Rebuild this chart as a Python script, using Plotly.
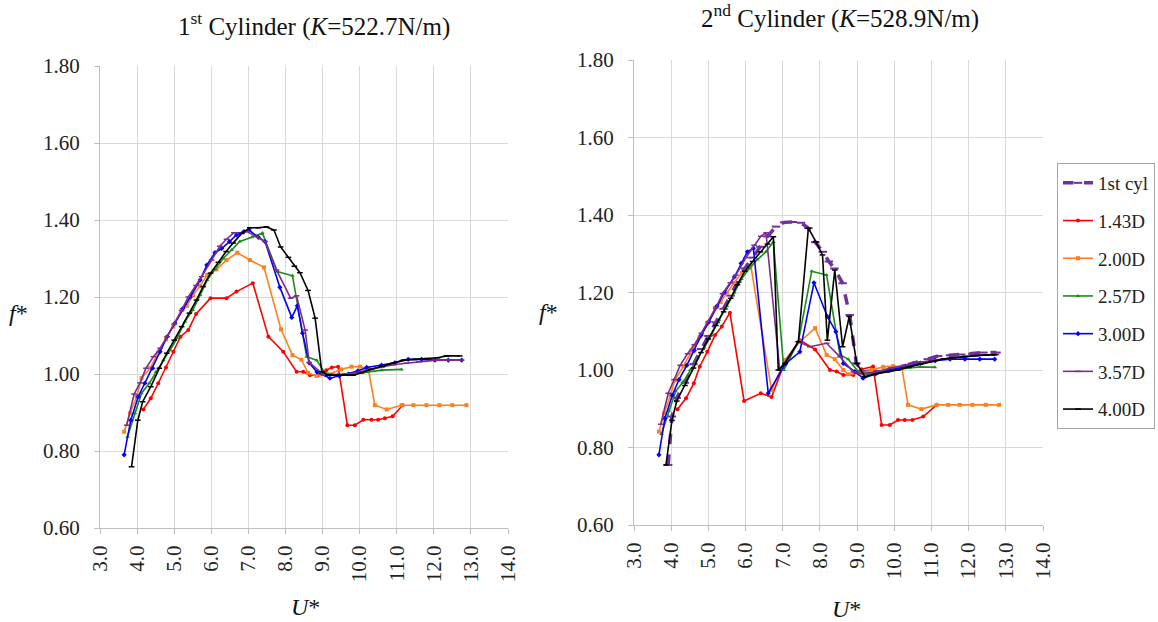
import plotly.graph_objects as go

# ---------------- 1st Cylinder (left) ----------------
L_43_x = [4.17, 4.37, 4.57, 4.78, 4.98, 5.17, 5.38, 5.59, 5.98, 6.41, 6.68, 7.12, 7.54, 7.94, 8.3, 8.48, 8.66, 8.88, 9.1, 9.25, 9.42, 9.67, 9.87, 10.1, 10.32, 10.5, 10.68, 10.89, 11.16]
L_43_y = [0.908, 0.937, 0.976, 1.017, 1.058, 1.097, 1.114, 1.156, 1.197, 1.197, 1.214, 1.236, 1.097, 1.058, 1.006, 1.006, 0.997, 0.997, 1.01, 1.017, 1.019, 0.867, 0.867, 0.881, 0.881, 0.881, 0.885, 0.89, 0.919]

L_200_x = [3.65, 3.81, 3.99, 4.12, 4.35, 4.57, 4.78, 4.98, 5.2, 5.34, 5.51, 5.7, 5.89, 6.14, 6.41, 6.7, 7.04, 7.42, 7.88, 8.19, 8.43, 8.61, 8.84, 9.1, 9.5, 9.78, 10.01, 10.23, 10.41, 10.73, 11.13, 11.45, 11.8, 12.15, 12.5, 12.88]
L_200_y = [0.85, 0.898, 0.941, 0.989, 1.015, 1.054, 1.09, 1.123, 1.166, 1.177, 1.205, 1.229, 1.257, 1.272, 1.296, 1.315, 1.296, 1.277, 1.116, 1.049, 1.037, 1.003, 0.995, 0.997, 1.012, 1.019, 1.019, 1.015, 0.919, 0.908, 0.919, 0.919, 0.919, 0.919, 0.919, 0.919]

L_257_x = [3.74, 3.94, 4.12, 4.33, 4.51, 4.71, 4.89, 5.08, 5.29, 5.5, 5.7, 5.89, 6.1, 6.32, 6.55, 6.77, 7.09, 7.38, 7.78, 8.19, 8.57, 8.84, 9.06, 9.4, 9.8, 10.2, 10.6, 11.13]
L_257_y = [0.837, 0.898, 0.95, 0.976, 1.006, 1.036, 1.062, 1.093, 1.136, 1.166, 1.205, 1.244, 1.272, 1.3, 1.322, 1.344, 1.355, 1.366, 1.266, 1.255, 1.045, 1.036, 1.003, 0.998, 1.0, 1.005, 1.01, 1.012]

L_300_x = [3.65, 3.83, 4.03, 4.21, 4.42, 4.62, 4.81, 5.02, 5.23, 5.43, 5.7, 5.88, 6.1, 6.28, 6.49, 6.68, 6.88, 7.02, 7.27, 7.45, 7.85, 8.17, 8.32, 8.46, 8.64, 8.85, 9.2, 9.45, 9.7, 9.95, 10.19, 10.59, 10.95, 11.31, 11.67, 12.03, 12.39, 12.75]
L_300_y = [0.79, 0.88, 0.941, 0.976, 1.015, 1.058, 1.097, 1.132, 1.17, 1.2, 1.244, 1.283, 1.315, 1.326, 1.344, 1.361, 1.37, 1.374, 1.355, 1.344, 1.225, 1.147, 1.177, 1.106, 1.029, 1.005, 0.989, 0.995, 1.0, 1.008, 1.017, 1.023, 1.029, 1.038, 1.038, 1.036, 1.036, 1.036]

L_357_x = [3.72, 3.92, 4.08, 4.24, 4.44, 4.62, 4.81, 5.0, 5.2, 5.38, 5.59, 5.74, 6.01, 6.23, 6.41, 6.61, 6.79, 6.97, 7.2, 7.45, 7.76, 8.14, 8.3, 8.53, 8.64, 9.04, 9.3, 9.6, 9.9, 10.2, 10.6, 10.9, 11.26, 11.6, 12.07, 12.4, 12.75]
L_357_y = [0.867, 0.948, 0.977, 1.015, 1.045, 1.067, 1.097, 1.13, 1.165, 1.2, 1.23, 1.253, 1.296, 1.332, 1.35, 1.367, 1.367, 1.37, 1.357, 1.344, 1.27, 1.197, 1.203, 1.114, 1.03, 0.997, 0.997, 1.0, 1.003, 1.01, 1.018, 1.024, 1.028, 1.032, 1.036, 1.036, 1.036]

L_400_x = [3.85, 4.02, 4.15, 4.37, 4.6, 4.8, 5.0, 5.2, 5.41, 5.6, 5.78, 5.98, 6.19, 6.4, 6.59, 6.82, 7.04, 7.27, 7.49, 7.69, 7.87, 8.08, 8.24, 8.39, 8.61, 8.8, 8.98, 9.15, 9.38, 9.6, 9.83, 10.05, 10.3, 10.6, 10.9, 11.18, 11.5, 11.8, 12.1, 12.34, 12.7]
L_400_y = [0.759, 0.88, 0.928, 0.967, 1.015, 1.054, 1.088, 1.123, 1.158, 1.192, 1.227, 1.262, 1.29, 1.318, 1.34, 1.365, 1.38, 1.38, 1.382, 1.374, 1.33, 1.303, 1.28, 1.263, 1.217, 1.145, 1.006, 0.997, 0.997, 0.997, 0.997, 1.003, 1.012, 1.02, 1.028, 1.036, 1.038, 1.04, 1.042, 1.047, 1.047]

# ---------------- 2nd Cylinder (right) ----------------
R_1st_x = [3.92, 4.02, 4.15, 4.37, 4.6, 4.8, 5.0, 5.2, 5.41, 5.6, 5.78, 5.98, 6.19, 6.4, 6.59, 6.82, 7.04, 7.27, 7.49, 7.69, 7.87, 8.08, 8.24, 8.39, 8.61, 8.8, 8.98, 9.15, 9.38, 9.6, 9.83, 10.05, 10.3, 10.6, 10.9, 11.18, 11.5, 11.8, 12.1, 12.4, 12.75]
R_1st_y = [0.755, 0.88, 0.928, 0.967, 1.015, 1.054, 1.088, 1.123, 1.158, 1.192, 1.227, 1.262, 1.29, 1.318, 1.345, 1.37, 1.381, 1.382, 1.38, 1.366, 1.33, 1.305, 1.28, 1.262, 1.224, 1.142, 1.017, 0.997, 0.997, 0.997, 1.0, 1.005, 1.012, 1.02, 1.028, 1.036, 1.038, 1.04, 1.042, 1.045, 1.045]

R_43_x = [4.17, 4.4, 4.61, 4.77, 4.97, 5.18, 5.36, 5.58, 5.96, 6.41, 6.7, 7.06, 7.46, 7.87, 8.27, 8.45, 8.63, 8.9, 9.12, 9.43, 9.66, 9.88, 10.1, 10.28, 10.49, 10.78, 11.14]
R_43_y = [0.899, 0.927, 0.966, 1.009, 1.047, 1.09, 1.112, 1.148, 0.92, 0.94, 0.93, 1.022, 1.077, 1.053, 1.0, 0.996, 0.987, 0.987, 1.002, 1.009, 0.858, 0.858, 0.871, 0.871, 0.871, 0.88, 0.91]

R_200_x = [3.67, 3.81, 3.98, 4.1, 4.33, 4.55, 4.76, 4.97, 5.18, 5.33, 5.5, 5.69, 5.9, 6.14, 6.7, 7.06, 7.46, 7.87, 8.18, 8.4, 8.63, 8.76, 9.12, 9.39, 9.7, 9.97, 10.2, 10.37, 10.73, 11.14, 11.45, 11.76, 12.1, 12.46, 12.82]
R_200_y = [0.841, 0.888, 0.935, 0.974, 1.01, 1.05, 1.085, 1.12, 1.16, 1.175, 1.2, 1.225, 1.25, 1.27, 0.948, 1.026, 1.073, 1.108, 1.039, 1.028, 1.0, 0.989, 0.991, 1.0, 1.008, 1.01, 1.008, 0.91, 0.899, 0.91, 0.91, 0.91, 0.91, 0.91, 0.91]

R_257_x = [3.74, 3.94, 4.12, 4.33, 4.51, 4.71, 4.89, 5.08, 5.29, 5.5, 5.7, 5.89, 6.1, 6.32, 6.55, 6.75, 7.03, 7.42, 7.78, 8.18, 8.54, 8.76, 9.03, 9.3, 9.6, 10.0, 10.4, 10.7, 11.09]
R_257_y = [0.835, 0.895, 0.945, 0.97, 1.0, 1.03, 1.058, 1.09, 1.13, 1.165, 1.2, 1.235, 1.262, 1.285, 1.305, 1.331, 1.0, 1.073, 1.255, 1.245, 1.039, 1.028, 0.996, 0.99, 0.995, 1.0, 1.005, 1.008, 1.007]

R_300_x = [3.67, 3.83, 4.03, 4.21, 4.42, 4.62, 4.81, 5.02, 5.23, 5.43, 5.7, 5.88, 6.05, 6.21, 6.61, 7.06, 7.46, 7.84, 8.2, 8.43, 8.63, 8.94, 9.16, 9.5, 9.9, 10.3, 10.7, 11.1, 11.5, 11.9, 12.3, 12.7]
R_300_y = [0.781, 0.875, 0.935, 0.975, 1.012, 1.05, 1.09, 1.125, 1.165, 1.2, 1.24, 1.275, 1.305, 1.314, 0.94, 1.015, 1.047, 1.225, 1.138, 1.099, 1.017, 0.996, 0.979, 0.99, 1.0, 1.01, 1.018, 1.024, 1.028, 1.028, 1.028, 1.028]

R_357_x = [3.72, 3.92, 4.08, 4.24, 4.44, 4.62, 4.81, 5.0, 5.2, 5.38, 5.59, 5.74, 6.01, 6.23, 6.41, 6.55, 6.92, 7.42, 7.73, 8.18, 8.54, 8.9, 9.2, 9.5, 9.9, 10.3, 10.7, 11.1, 11.5, 11.9, 12.3, 12.75]
R_357_y = [0.86, 0.94, 0.975, 1.012, 1.042, 1.065, 1.095, 1.125, 1.16, 1.197, 1.225, 1.245, 1.29, 1.322, 1.345, 1.354, 1.0, 1.073, 1.06, 1.069, 1.034, 0.995, 0.99, 0.995, 1.005, 1.012, 1.02, 1.026, 1.03, 1.034, 1.038, 1.04]

R_400_x = [3.86, 4.02, 4.15, 4.37, 4.6, 4.8, 5.0, 5.2, 5.41, 5.6, 5.78, 5.98, 6.19, 6.4, 6.59, 6.75, 6.88, 7.06, 7.42, 7.69, 7.89, 8.07, 8.2, 8.4, 8.61, 8.79, 8.99, 9.21, 9.5, 9.8, 10.1, 10.4, 10.7, 11.0, 11.3, 11.6, 11.9, 12.2, 12.5, 12.7]
R_400_y = [0.755, 0.87, 0.92, 0.96, 1.005, 1.045, 1.08, 1.115, 1.15, 1.185, 1.22, 1.255, 1.28, 1.305, 1.325, 1.344, 1.0, 1.017, 1.073, 1.366, 1.331, 1.297, 1.077, 1.258, 1.06, 1.138, 1.017, 0.983, 0.99, 0.995, 1.0, 1.008, 1.015, 1.022, 1.028, 1.032, 1.035, 1.037, 1.039, 1.039]

names = ["1.43D", "2.00D", "2.57D", "3.00D", "3.57D", "4.00D"]
colors = ["#FF0000", "#FF7F1E", "#1A8C1A", "#0000FF", "#7F2A8F", "#000000"]
symbols = ["circle", "square", "triangle-up", "diamond", "line-ew", "line-ew"]

left = [(L_43_x, L_43_y), (L_200_x, L_200_y), (L_257_x, L_257_y), (L_300_x, L_300_y), (L_357_x, L_357_y), (L_400_x, L_400_y)]
right = [(R_43_x, R_43_y), (R_200_x, R_200_y), (R_257_x, R_257_y), (R_300_x, R_300_y), (R_357_x, R_357_y), (R_400_x, R_400_y)]

FONT = "Times New Roman"
fig = go.Figure()

# 1st cyl reference (right plot)
fig.add_trace(go.Scatter(x=R_1st_x, y=R_1st_y, xaxis="x2", yaxis="y2", name="1st cyl",
                         mode="lines+markers", legendgroup="g0",
                         line=dict(color="#7030A0", width=3.5, dash="dash"),
                         marker=dict(symbol="line-ew", size=6, color="#7030A0",
                                     line=dict(color="#7030A0", width=2))))

for i, (nm, c, s) in enumerate(zip(names, colors, symbols)):
    mk = dict(symbol=s, size=4, color=c, line=dict(color=c, width=1.5 if "line" in s else 0))
    fig.add_trace(go.Scatter(x=left[i][0], y=left[i][1], xaxis="x", yaxis="y", name=nm,
                             mode="lines+markers", showlegend=False, legendgroup="g%d" % (i + 1),
                             line=dict(color=c, width=1.6), marker=mk))
    fig.add_trace(go.Scatter(x=right[i][0], y=right[i][1], xaxis="x2", yaxis="y2", name=nm,
                             mode="lines+markers", showlegend=True, legendgroup="g%d" % (i + 1),
                             line=dict(color=c, width=1.6), marker=mk))

W, H = 1158, 622
ax_common = dict(showgrid=True, gridcolor="#D9D9D9", gridwidth=1, zeroline=False,
                 showline=True, linecolor="#BFBFBF", linewidth=1, automargin=False,
                 ticks="outside", ticklen=5, tickcolor="#BFBFBF",
                 tickfont=dict(family=FONT, size=21, color="#222222"))
xcommon = dict(ax_common, range=[3.0, 14.0], dtick=1.0, tick0=3.0, tickformat=".1f", tickangle=-90,
               ticklabelstandoff=3)
ycommon = dict(ax_common, range=[0.6, 1.8], dtick=0.2, tick0=0.6, tickformat=".2f",
               ticklabelstandoff=10)


def ann(text, px, py, size=24):
    return dict(text=text, x=px / W, y=1 - py / H, xref="paper", yref="paper",
                xanchor="center", yanchor="middle", showarrow=False,
                font=dict(family=FONT, size=size, color="#111111"))


fig.update_layout(
    width=W, height=H,
    paper_bgcolor="white", plot_bgcolor="white",
    margin=dict(l=0, r=0, t=0, b=0, pad=0, autoexpand=False),
    font=dict(family=FONT, color="#222222"),
    xaxis=dict(xcommon, domain=[100 / W, 508 / W], anchor="y"),
    yaxis=dict(ycommon, domain=[1 - 528 / H, 1 - 66 / H], anchor="x"),
    xaxis2=dict(xcommon, domain=[634 / W, 1043 / W], anchor="y2"),
    yaxis2=dict(ycommon, domain=[1 - 525 / H, 1 - 60 / H], anchor="x2"),
    legend=dict(x=1057 / W, y=1 - 163 / H, xanchor="left", yanchor="top",
                bordercolor="#A6A6A6", borderwidth=1, bgcolor="white",
                font=dict(family=FONT, size=19, color="#222222"),
                tracegroupgap=10, itemwidth=30),
    showlegend=True,
    annotations=[
        ann("1<sup>st</sup> Cylinder (<i>K</i>=522.7N/m)", 314, 24, 25),
        ann("2<sup>nd</sup> Cylinder (<i>K</i>=528.9N/m)", 840, 17, 25),
        ann("<i>f</i>*", 18, 313),
        ann("<i>f</i>*", 548, 312),
        ann("<i>U</i>*", 305, 607),
        ann("<i>U</i>*", 846, 609),
    ],
)

fig.write_html("out.html", config={"displayModeBar": False},
               post_script="document.body.style.margin='0px';document.body.style.overflow='hidden';")
